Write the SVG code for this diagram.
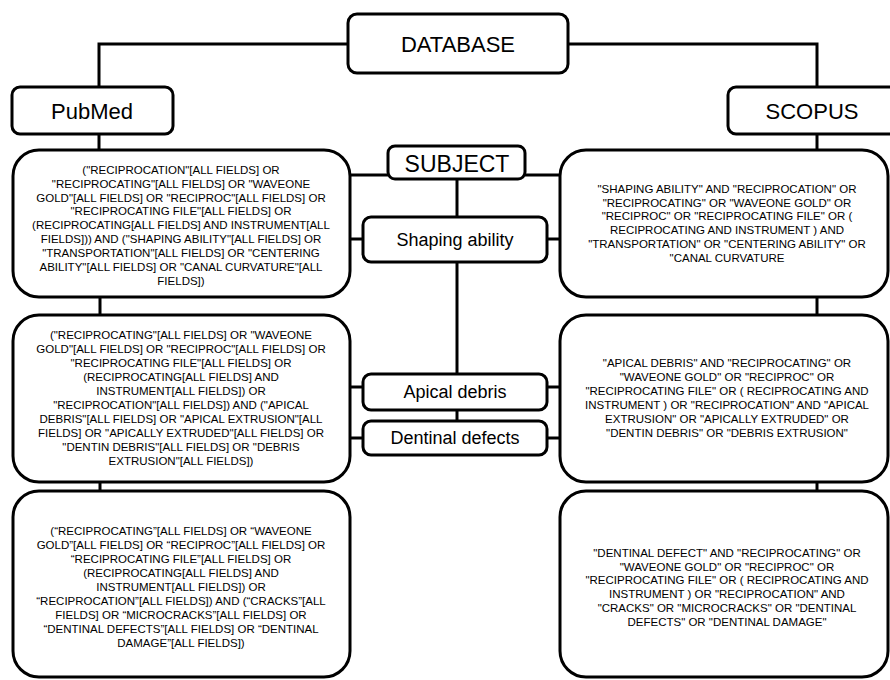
<svg xmlns="http://www.w3.org/2000/svg" width="890" height="680" viewBox="0 0 890 680">
<style>
.box{fill:#fff;stroke:#000;stroke-width:3}
.big{fill:#fff;stroke:#000;stroke-width:3}
.conn{stroke:#000;stroke-width:3;fill:none}
.lbl{font-family:"Liberation Sans",Arial,sans-serif;font-size:22px;text-anchor:middle;fill:#000}
.sub{font-family:"Liberation Sans",Arial,sans-serif;font-size:18px;text-anchor:middle;fill:#000}
.q{font-family:"Liberation Sans",Arial,sans-serif;font-size:11.5px;text-anchor:middle;fill:#000}
</style>
<rect width="890" height="680" fill="#fff"/>
<g id="connectors">
<polyline class="conn" points="99,87 99,44 817,44 817,87"/>
<line class="conn" x1="99" y1="134" x2="99" y2="150"/>
<line class="conn" x1="817" y1="134" x2="817" y2="150"/>
<line class="conn" x1="100" y1="297" x2="100" y2="315"/>
<line class="conn" x1="817" y1="297" x2="817" y2="315"/>
<line class="conn" x1="100" y1="482" x2="100" y2="491"/>
<line class="conn" x1="817" y1="482" x2="817" y2="491"/>
<line class="conn" x1="350" y1="175" x2="388" y2="175"/>
<line class="conn" x1="525" y1="175" x2="560" y2="175"/>
<line class="conn" x1="457" y1="179" x2="457" y2="217"/>
<line class="conn" x1="457" y1="262" x2="457" y2="374"/>
<line class="conn" x1="457" y1="410" x2="457" y2="421"/>
<line class="conn" x1="350" y1="239" x2="363" y2="239"/>
<line class="conn" x1="547" y1="239" x2="560" y2="239"/>
<line class="conn" x1="350" y1="387" x2="363" y2="387"/>
<line class="conn" x1="547" y1="387" x2="560" y2="387"/>
<line class="conn" x1="350" y1="438" x2="363" y2="438"/>
<line class="conn" x1="547" y1="438" x2="560" y2="438"/>
</g>
<g id="database">
<rect class="box" x="348" y="14" width="220" height="59" rx="9"/>
<text class="lbl" x="458" y="52">DATABASE</text>
</g>
<g id="pubmed">
<rect class="box" x="12" y="87" width="161" height="47" rx="8"/>
<text class="lbl" x="92" y="119">PubMed</text>
</g>
<g id="scopus">
<rect class="box" x="728" y="87" width="175" height="47" rx="8"/>
<text class="lbl" x="812" y="119">SCOPUS</text>
</g>
<g id="subject">
<rect class="box" x="388" y="146" width="137" height="33" rx="7"/>
<text class="lbl" x="457" y="172" style="font-size:23px">SUBJECT</text>
</g>
<g id="shaping">
<rect class="box" x="363" y="217" width="184" height="45" rx="8"/>
<text class="sub" x="455" y="246">Shaping ability</text>
</g>
<g id="apical">
<rect class="box" x="363" y="374" width="184" height="36" rx="8"/>
<text class="sub" x="455" y="398">Apical debris</text>
</g>
<g id="dentinal">
<rect class="box" x="363" y="421" width="184" height="34" rx="8"/>
<text class="sub" x="455" y="444">Dentinal defects</text>
</g>
<g id="pubmed-shaping">
<rect class="big" x="13" y="150" width="337" height="147" rx="26"/>
<text class="q" x="181" y="174">("RECIPROCATION"[ALL FIELDS] OR</text>
<text class="q" x="181" y="188">"RECIPROCATING"[ALL FIELDS] OR "WAVEONE</text>
<text class="q" x="181" y="202">GOLD"[ALL FIELDS] OR "RECIPROC"[ALL FIELDS] OR</text>
<text class="q" x="181" y="215">"RECIPROCATING FILE"[ALL FIELDS] OR</text>
<text class="q" x="181" y="229">(RECIPROCATING[ALL FIELDS] AND INSTRUMENT[ALL</text>
<text class="q" x="181" y="243">FIELDS])) AND ("SHAPING ABILITY"[ALL FIELDS] OR</text>
<text class="q" x="181" y="257">"TRANSPORTATION"[ALL FIELDS] OR "CENTERING</text>
<text class="q" x="181" y="271">ABILITY"[ALL FIELDS] OR "CANAL CURVATURE"[ALL</text>
<text class="q" x="181" y="285">FIELDS])</text>
</g>
<g id="scopus-shaping" xml:space="preserve">
<rect class="big" x="560" y="150" width="328" height="147" rx="26"/>
<text class="q" x="727" y="193">"SHAPING ABILITY"  AND  "RECIPROCATION"  OR</text>
<text class="q" x="727" y="207">"RECIPROCATING"  OR  "WAVEONE  GOLD"  OR</text>
<text class="q" x="727" y="220">"RECIPROC"  OR "RECIPROCATING FILE"  OR  (</text>
<text class="q" x="727" y="234">RECIPROCATING  AND  INSTRUMENT ) AND</text>
<text class="q" x="727" y="248">"TRANSPORTATION"  OR  "CENTERING ABILITY"  OR</text>
<text class="q" x="727" y="262">"CANAL  CURVATURE</text>
</g>
<g id="pubmed-apical">
<rect class="big" x="13" y="315" width="337" height="167" rx="26"/>
<text class="q" x="181" y="339">("RECIPROCATING"[ALL FIELDS] OR "WAVEONE</text>
<text class="q" x="181" y="353">GOLD"[ALL FIELDS] OR "RECIPROC"[ALL FIELDS] OR</text>
<text class="q" x="181" y="367">"RECIPROCATING FILE"[ALL FIELDS] OR</text>
<text class="q" x="181" y="381">(RECIPROCATING[ALL FIELDS] AND</text>
<text class="q" x="181" y="395">INSTRUMENT[ALL FIELDS]) OR</text>
<text class="q" x="181" y="409">"RECIPROCATION"[ALL FIELDS]) AND ("APICAL</text>
<text class="q" x="181" y="423">DEBRIS"[ALL FIELDS] OR "APICAL EXTRUSION"[ALL</text>
<text class="q" x="181" y="437">FIELDS] OR "APICALLY EXTRUDED"[ALL FIELDS] OR</text>
<text class="q" x="181" y="451">"DENTIN DEBRIS"[ALL FIELDS] OR "DEBRIS</text>
<text class="q" x="181" y="465">EXTRUSION"[ALL FIELDS])</text>
</g>
<g id="scopus-apical" xml:space="preserve">
<rect class="big" x="560" y="315" width="328" height="167" rx="26"/>
<text class="q" x="727" y="367">"APICAL DEBRIS"  AND  "RECIPROCATING"  OR</text>
<text class="q" x="727" y="381">"WAVEONE  GOLD"  OR  "RECIPROC"  OR</text>
<text class="q" x="727" y="395">"RECIPROCATING FILE"  OR  ( RECIPROCATING  AND</text>
<text class="q" x="727" y="409">INSTRUMENT ) OR  "RECIPROCATION"  AND  "APICAL</text>
<text class="q" x="727" y="423">EXTRUSION"  OR  "APICALLY  EXTRUDED"  OR</text>
<text class="q" x="727" y="437">"DENTIN DEBRIS"  OR  "DEBRIS EXTRUSION"</text>
</g>
<g id="pubmed-dentinal">
<rect class="big" x="13" y="491" width="337" height="186" rx="26"/>
<text class="q" x="181" y="535">(“RECIPROCATING”[ALL FIELDS] OR “WAVEONE</text>
<text class="q" x="181" y="549">GOLD”[ALL FIELDS] OR “RECIPROC”[ALL FIELDS] OR</text>
<text class="q" x="181" y="563">“RECIPROCATING FILE”[ALL FIELDS] OR</text>
<text class="q" x="181" y="577">(RECIPROCATING[ALL FIELDS] AND</text>
<text class="q" x="181" y="591">INSTRUMENT[ALL FIELDS]) OR</text>
<text class="q" x="181" y="605">“RECIPROCATION”[ALL FIELDS]) AND (“CRACKS”[ALL</text>
<text class="q" x="181" y="619">FIELDS] OR “MICROCRACKS”[ALL FIELDS] OR</text>
<text class="q" x="181" y="633">“DENTINAL DEFECTS”[ALL FIELDS] OR “DENTINAL</text>
<text class="q" x="181" y="647">DAMAGE”[ALL FIELDS])</text>
</g>
<g id="scopus-dentinal" xml:space="preserve">
<rect class="big" x="560" y="491" width="328" height="186" rx="26"/>
<text class="q" x="727" y="557">"DENTINAL DEFECT"  AND  "RECIPROCATING"  OR</text>
<text class="q" x="727" y="571">"WAVEONE  GOLD"  OR  "RECIPROC"  OR</text>
<text class="q" x="727" y="584">"RECIPROCATING FILE"  OR  ( RECIPROCATING  AND</text>
<text class="q" x="727" y="598">INSTRUMENT )  OR  "RECIPROCATION"  AND</text>
<text class="q" x="727" y="612">"CRACKS"  OR  "MICROCRACKS"  OR  "DENTINAL</text>
<text class="q" x="727" y="626">DEFECTS"  OR  "DENTINAL DAMAGE"</text>
</g>
</svg>
